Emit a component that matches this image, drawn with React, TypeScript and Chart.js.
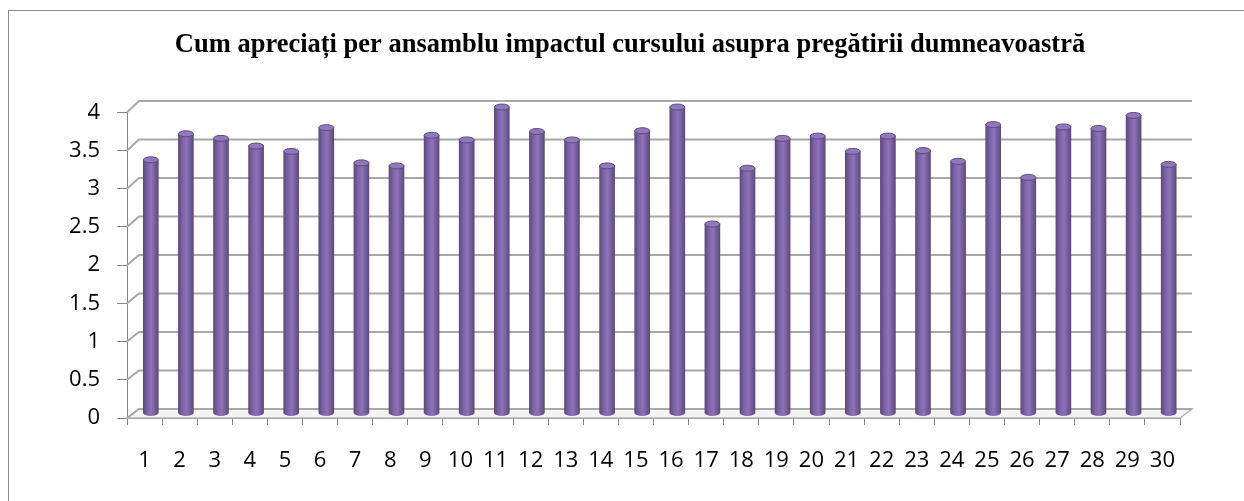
import React, { useEffect, useRef } from 'react';
import { Chart, registerables } from 'chart.js';

Chart.register(...registerables);

const TITLE = 'Cum apreciați per ansamblu impactul cursului asupra pregătirii dumneavoastră';

const CATEGORIES = [
  '1', '2', '3', '4', '5', '6', '7', '8', '9', '10',
  '11', '12', '13', '14', '15', '16', '17', '18', '19', '20',
  '21', '22', '23', '24', '25', '26', '27', '28', '29', '30',
];

const VALUES = [
  3.31, 3.65, 3.59, 3.49, 3.42, 3.73, 3.27, 3.23, 3.63, 3.57,
  4.0, 3.68, 3.57, 3.23, 3.69, 4.0, 2.47, 3.2, 3.59, 3.62,
  3.42, 3.62, 3.43, 3.29, 3.77, 3.08, 3.74, 3.72, 3.89, 3.25,
];

const Y_TICKS = [0, 0.5, 1, 1.5, 2, 2.5, 3, 3.5, 4];

// 3D depth styling
const DEPTH_X = 12;
const BAR_SHIFT = 0.178; // bars sit mid-depth, shifted right (in category units)
const GRID_COLOR = '#a8a8a8';
const AXIS_COLOR = '#868686';
const BAR_FLAT = '#7f63a8';

function barGradient(ctx: CanvasRenderingContext2D, cx: number, rx: number) {
  if (!isFinite(cx) || !isFinite(rx) || rx <= 0) return BAR_FLAT;
  const g = ctx.createLinearGradient(cx - rx, 0, cx + rx, 0);
  g.addColorStop(0, '#5e4a7e');
  g.addColorStop(0.3, '#8064a9');
  g.addColorStop(0.55, '#8d73b7');
  g.addColorStop(1, '#5e4a7e');
  return g;
}

const depthPlugin = {
  id: 'depth3d',
  beforeDatasetsDraw(chart: any) {
    const { ctx, chartArea: a, scales } = chart;
    const yF = scales.y;
    const yB = scales.yBack;
    if (!yF || !yB) return;
    ctx.save();
    const f0 = yF.getPixelForValue(0);
    const b0 = yB.getPixelForValue(0);
    // floor
    ctx.beginPath();
    ctx.moveTo(a.left, f0);
    ctx.lineTo(a.right, f0);
    ctx.lineTo(a.right + DEPTH_X, b0);
    ctx.lineTo(a.left + DEPTH_X, b0);
    ctx.closePath();
    ctx.fillStyle = '#f4f4f4';
    ctx.fill();
    ctx.strokeStyle = '#b4b4b4';
    ctx.lineWidth = 1.5;
    ctx.stroke();
    // back wall gridlines + side wall diagonals
    ctx.strokeStyle = GRID_COLOR;
    ctx.lineWidth = 2;
    for (const v of Y_TICKS) {
      const fy = yF.getPixelForValue(v);
      const by = yB.getPixelForValue(v);
      ctx.beginPath();
      ctx.moveTo(a.left, fy);
      ctx.lineTo(a.left + DEPTH_X, by);
      ctx.lineTo(a.right + DEPTH_X, by);
      ctx.stroke();
    }
    ctx.restore();
  },
  afterDatasetsDraw(chart: any) {
    const { ctx } = chart;
    const meta = chart.getDatasetMeta(0);
    ctx.save();
    meta.data.forEach((el: any) => {
      const { x, y, width, base } = el.getProps(['x', 'y', 'width', 'base'], true);
      if (![x, y, width, base].every((n) => isFinite(n))) return;
      const rx = width / 2;
      // bottom rounded end
      ctx.beginPath();
      ctx.ellipse(x, base, rx, 3, 0, 0, Math.PI);
      ctx.fillStyle = barGradient(ctx, x, rx);
      ctx.fill();
      // top cap
      ctx.beginPath();
      ctx.ellipse(x, y, rx, 3, 0, 0, Math.PI * 2);
      ctx.fillStyle = '#9079b9';
      ctx.fill();
      ctx.strokeStyle = '#5e4a7e';
      ctx.lineWidth = 1;
      ctx.stroke();
    });
    ctx.restore();
  },
};

export default function App() {
  const canvasRef = useRef<HTMLCanvasElement | null>(null);

  useEffect(() => {
    const canvas = canvasRef.current;
    if (!canvas) return;
    const points = VALUES.map((v, i) => ({ x: i + 1, y: v }));
    const chart = new Chart(canvas, {
      type: 'bar',
      data: {
        labels: CATEGORIES,
        datasets: [
          {
            data: points as any,
            xAxisID: 'xb',
            yAxisID: 'yb',
            barThickness: 15,
            borderWidth: 0,
            clip: false as any,
            backgroundColor: (c: any) => {
              const ch = c.chart;
              const xs = ch.scales && ch.scales.xb;
              if (!xs || !c.parsed || c.type !== 'data') return BAR_FLAT;
              const cx = xs.getPixelForValue(c.parsed.x);
              return barGradient(ch.ctx, cx, 7.5);
            },
          },
        ],
      },
      options: {
        animation: false,
        responsive: false,
        maintainAspectRatio: false,
        layout: { padding: { left: 16, right: 0, top: 10, bottom: 0 } },
        plugins: {
          legend: { display: false },
          tooltip: { enabled: false },
          title: {
            display: true,
            text: TITLE,
            color: '#000',
            font: { family: 'Liberation Serif', size: 26.5, weight: 'bold', lineHeight: 1.2 },
            padding: { top: 19.1, bottom: 51.4 },
          },
        },
        scales: {
          x: {
            type: 'category',
            position: 'bottom',
            offset: true,
            grid: {
              offset: true,
              drawOnChartArea: false,
              drawTicks: true,
              tickLength: 7,
              color: AXIS_COLOR,
            },
            border: { display: true, color: AXIS_COLOR },
            ticks: {
              color: '#000',
              font: { family: 'Open Sans', size: 22 },
              padding: 23,
              maxRotation: 0,
              autoSkip: false,
            },
            afterFit: (s: any) => {
              s.height = 83;
            },
          },
          y: {
            type: 'linear',
            position: 'left',
            min: 0,
            max: 4,
            grid: {
              drawOnChartArea: false,
              drawTicks: true,
              tickLength: 10,
              color: AXIS_COLOR,
            },
            border: { display: true, color: AXIS_COLOR },
            ticks: {
              stepSize: 0.5,
              color: '#000',
              font: { family: 'Open Sans', size: 22 },
              padding: 17,
              callback: (v: any) => String(Number(v)),
            },
            afterFit: (s: any) => {
              s.width = 111;
            },
          },
          xb: {
            type: 'linear',
            display: false,
            offset: false,
            min: 0.5 - BAR_SHIFT,
            max: 30.5 - BAR_SHIFT,
            grid: { offset: false },
          },
          yb: {
            type: 'linear',
            display: false,
            min: -0.0654,
            max: 3.931,
          },
          yBack: {
            type: 'linear',
            position: 'right',
            display: true,
            min: -0.1169,
            max: 3.853,
            ticks: { display: false },
            grid: { display: false },
            border: { display: false },
            afterFit: (s: any) => {
              s.width = 64;
            },
          },
        },
      },
      plugins: [depthPlugin],
    });
    return () => chart.destroy();
  }, []);

  return (
    <div style={{ position: 'fixed', left: 0, top: 0, width: 1244, height: 501, background: '#fff' }}>
      <div
        style={{
          position: 'absolute',
          left: 8,
          top: 10,
          width: 1236,
          height: 491,
          borderLeft: '1px solid #8c8c8c',
          borderTop: '1px solid #8c8c8c',
          boxSizing: 'border-box',
        }}
      />
      <canvas
        ref={canvasRef}
        width={1244}
        height={501}
        style={{ position: 'absolute', left: 0, top: 0, width: 1244, height: 501 }}
      />
    </div>
  );
}
